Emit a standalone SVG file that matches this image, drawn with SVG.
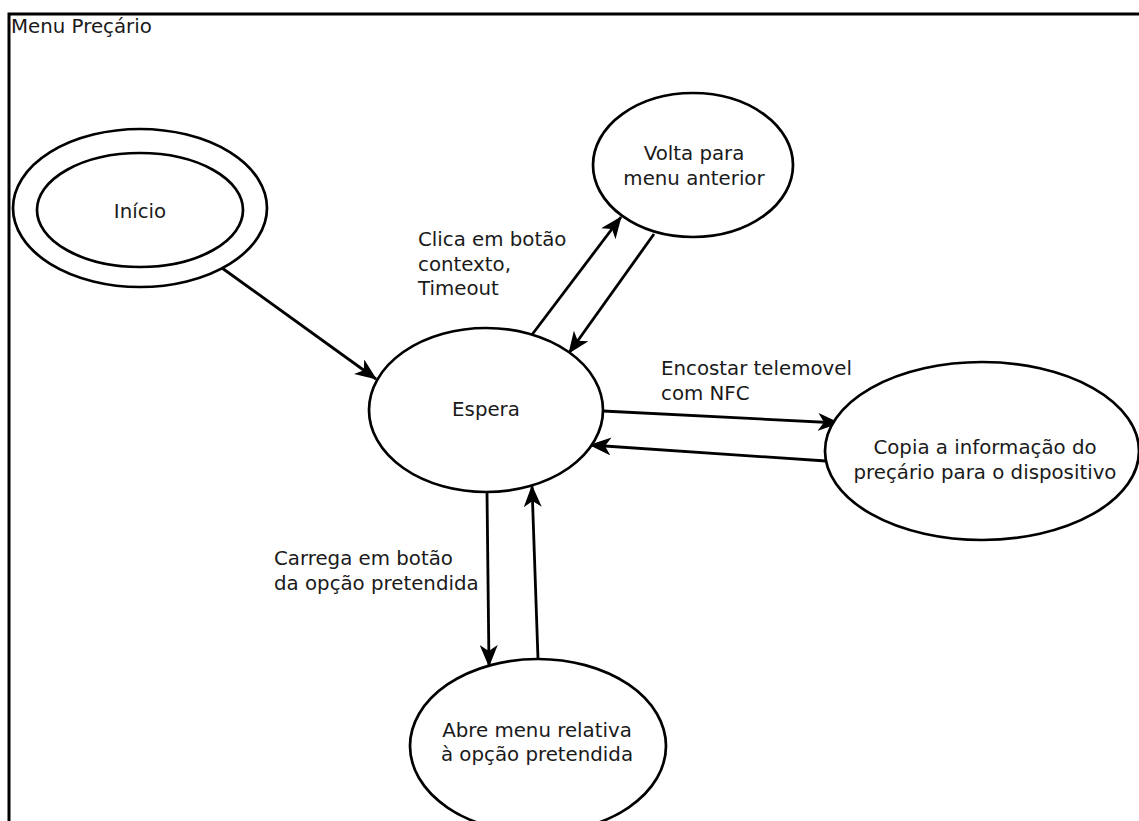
<svg xmlns="http://www.w3.org/2000/svg" width="1139" height="821" viewBox="0 0 1139 821">
  <style>
    .state { fill: #ffffff; stroke: #000000; stroke-width: 2.7; }
    .frame { fill: none; stroke: #000000; stroke-width: 3; }
    .edge { fill: none; stroke: #000000; stroke-width: 2.8; marker-end: url(#arrow); }
    text { font-family: "DejaVu Sans", "Liberation Sans", sans-serif; font-size: 19.8px; fill: #1a1a1a; }
    .c { text-anchor: middle; }
  </style>
  <defs>
    <marker id="arrow" viewBox="0 0 22 18" refX="21" refY="9" markerWidth="22" markerHeight="18" markerUnits="userSpaceOnUse" orient="auto">
      <path d="M0,0 L22,9 L0,18 L6,9 Z" fill="#000000"/>
    </marker>
  </defs>
  <rect width="1139" height="821" fill="#ffffff"/>

  <!-- Outer frame with title -->
  <g id="frame">
    <path class="frame" d="M9,821 V14 H1139"/>
    <text x="11" y="33">Menu Preçário</text>
  </g>

  <!-- Transitions -->
  <g id="connectors">
    <line class="edge" x1="222" y1="268" x2="376" y2="379"/>
    <line class="edge" x1="531" y1="336" x2="621" y2="217"/>
    <line class="edge" x1="654" y1="234" x2="569" y2="353"/>
    <line class="edge" x1="603" y1="411" x2="839" y2="423"/>
    <line class="edge" x1="826" y1="461" x2="590" y2="445"/>
    <line class="edge" x1="487" y1="492" x2="489" y2="666"/>
    <line class="edge" x1="538" y1="659" x2="532" y2="486"/>
    <text x="418" y="246">Clica em botão</text>
    <text x="418" y="271">contexto,</text>
    <text x="418" y="295">Timeout</text>
    <text x="661" y="375">Encostar telemovel</text>
    <text x="661" y="400">com NFC</text>
    <text x="274" y="565">Carrega em botão</text>
    <text x="274" y="590">da opção pretendida</text>
  </g>

  <g id="inicio">
    <ellipse class="state" cx="140" cy="208" rx="127" ry="79"/>
    <ellipse class="state" cx="140" cy="210" rx="103" ry="57"/>
    <text class="c" x="140" y="218">Início</text>
  </g>

  <g id="espera">
    <ellipse class="state" cx="486" cy="410" rx="117" ry="82"/>
    <text class="c" x="486" y="416">Espera</text>
  </g>

  <g id="volta">
    <ellipse class="state" cx="693" cy="165" rx="100" ry="72"/>
    <text class="c" x="694" y="160">Volta para</text>
    <text class="c" x="694" y="185">menu anterior</text>
  </g>

  <g id="copia">
    <ellipse class="state" cx="982" cy="451" rx="157" ry="89"/>
    <text class="c" x="985" y="454">Copia a informação do</text>
    <text class="c" x="985" y="479">preçário para o dispositivo</text>
  </g>

  <g id="abre">
    <ellipse class="state" cx="538" cy="746" rx="128" ry="87"/>
    <text class="c" x="537" y="737">Abre menu relativa</text>
    <text class="c" x="537" y="761">à opção pretendida</text>
  </g>
</svg>
